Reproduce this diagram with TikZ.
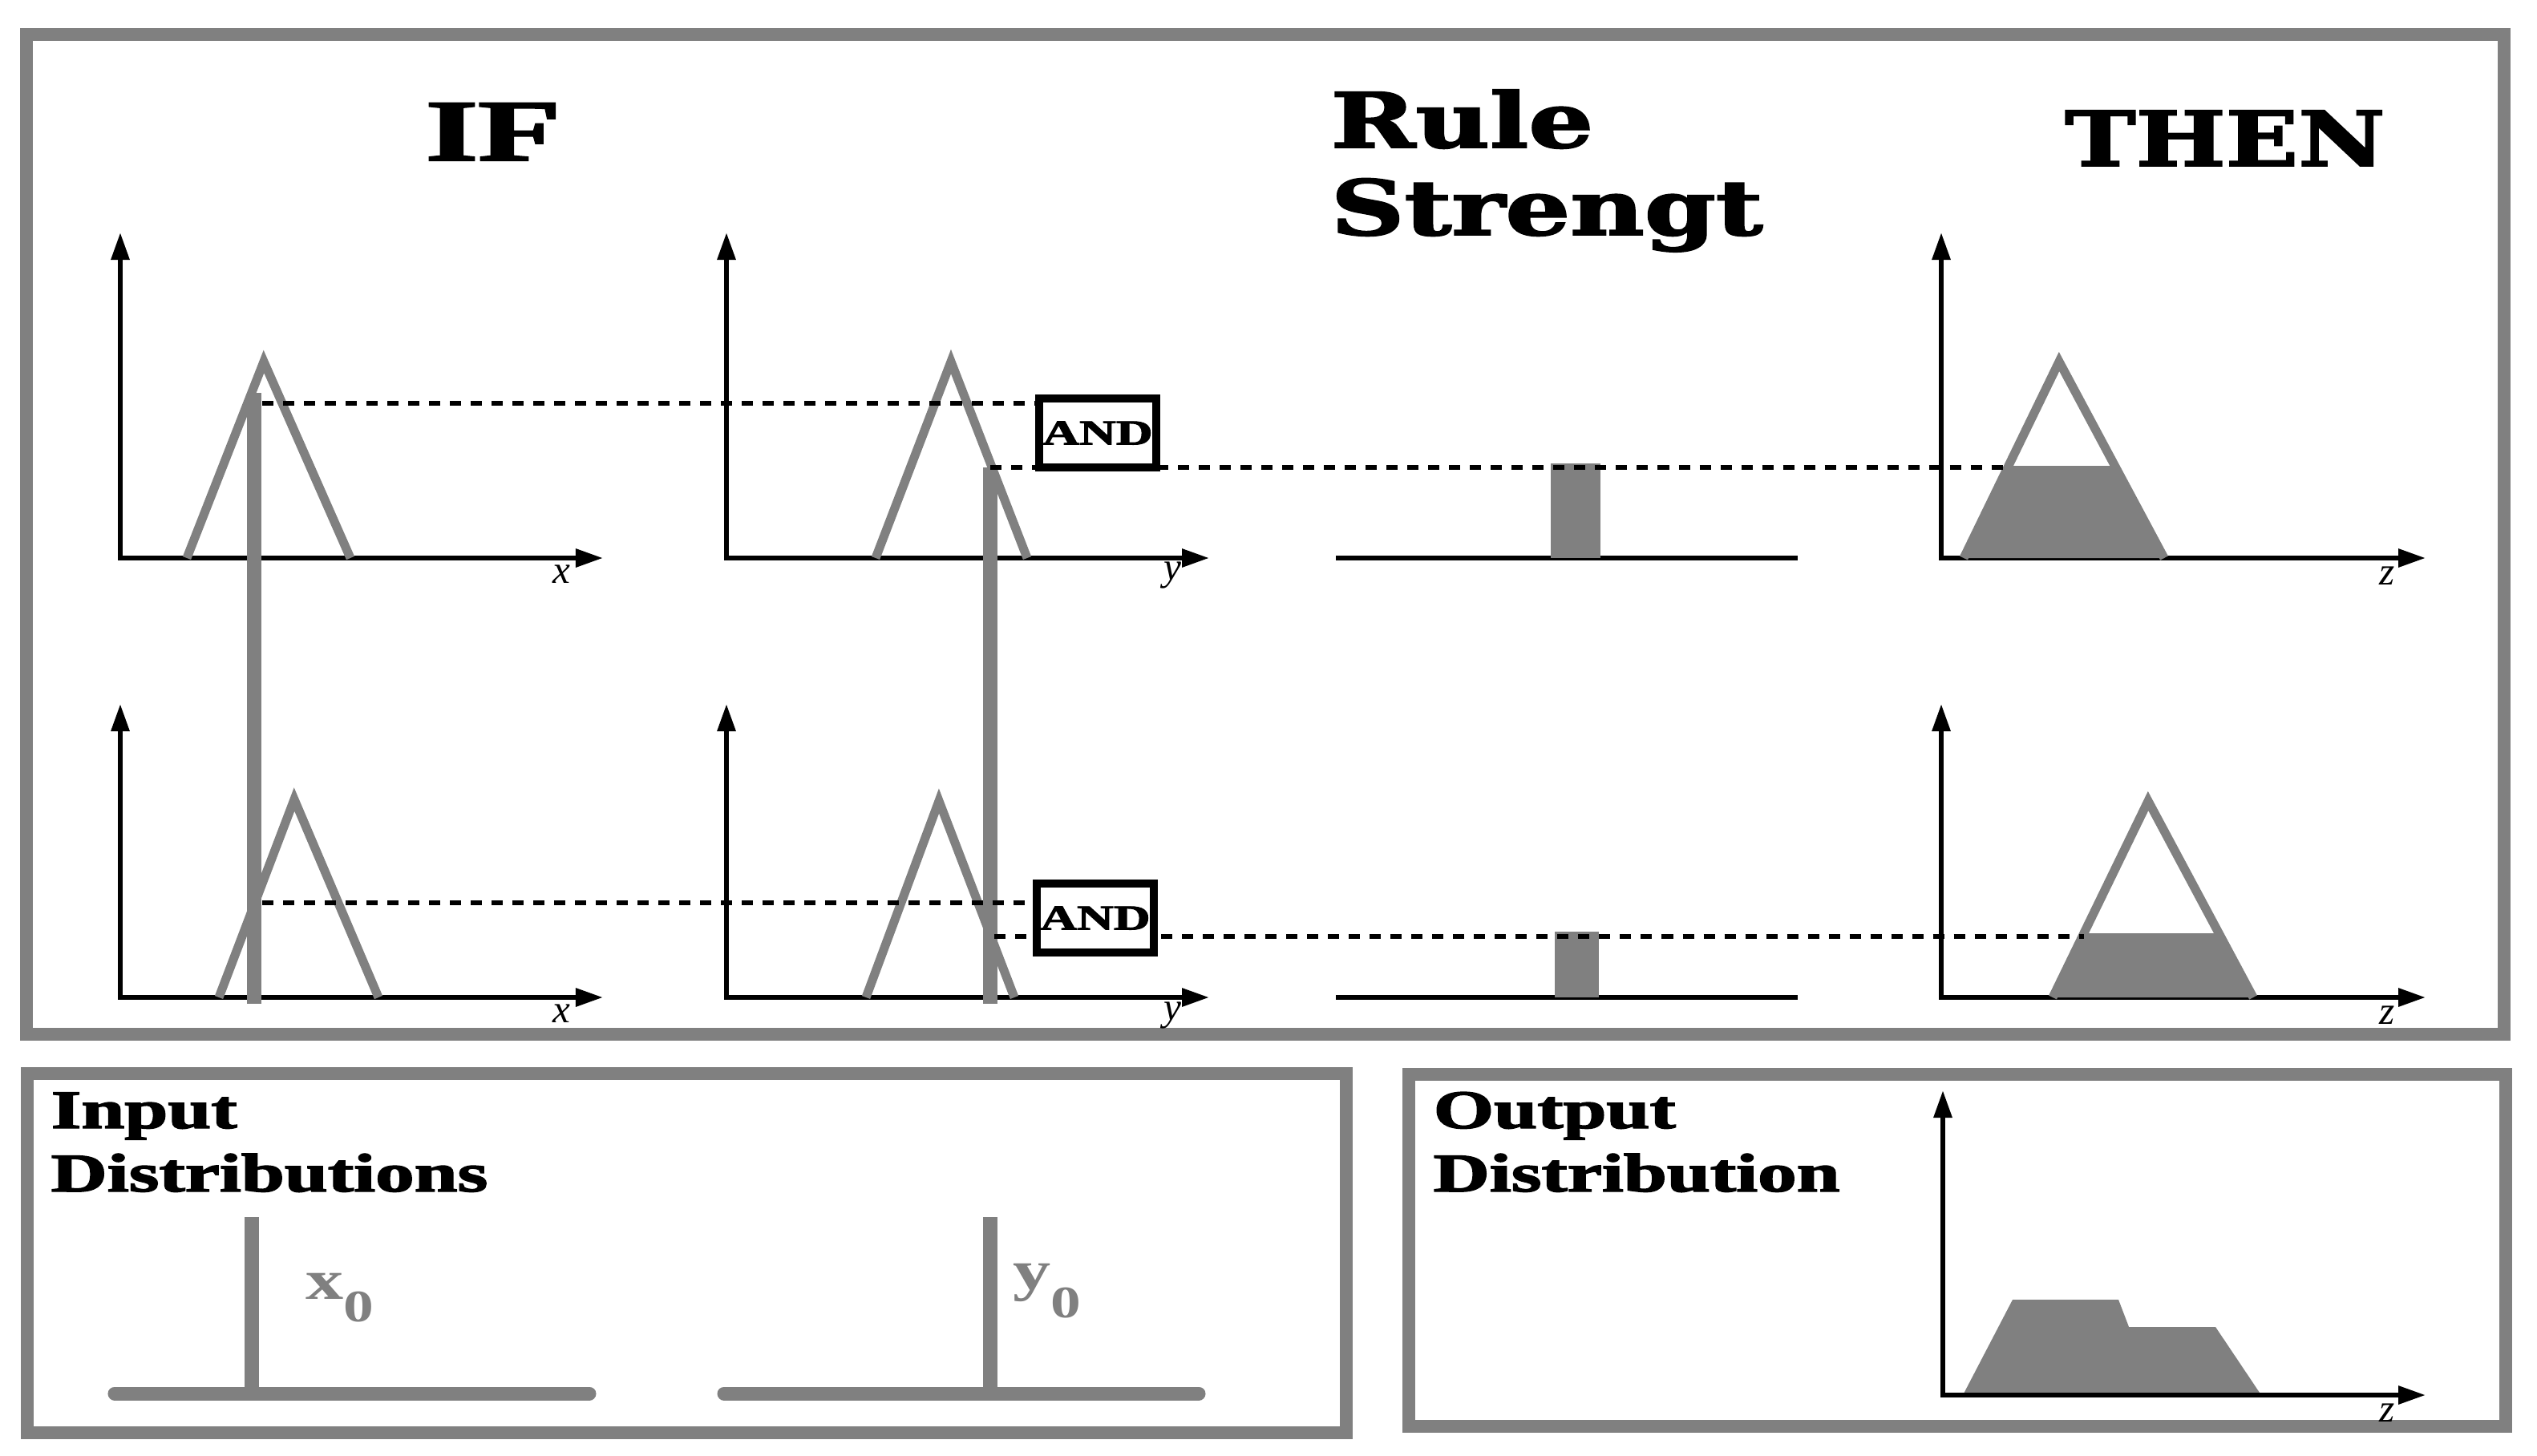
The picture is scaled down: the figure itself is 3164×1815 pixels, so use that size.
\documentclass[tikz,border=0pt]{standalone}
\usepackage{fontspec}
\setmainfont{Liberation Serif}
\newfontfamily\slabfont{DejaVu Serif}[BoldFeatures={FakeBold=2}]
\newfontfamily\heavyfont{Liberation Serif}[BoldFeatures={FakeBold=2}]
\usetikzlibrary{arrows.meta}
\definecolor{fg}{RGB}{128,128,128}
\begin{document}
\begin{tikzpicture}[x=0.01cm,y=-0.01cm,
  frame/.style={draw=fg, line width=0.16cm},
  axis/.style={draw=black, line width=0.06cm, line join=miter,
    {Triangle[length=0.34cm,width=0.22cm]}-{Triangle[length=0.34cm,width=0.22cm]}},
  rsline/.style={draw=black, line width=0.06cm},
  mf/.style={draw=fg, line width=0.11cm, line join=miter},
  cut/.style={fill=fg},
  dashline/.style={draw=black, line width=0.06cm, dash pattern=on 0.14cm off 0.12cm},
  pulse/.style={draw=fg, line width=0.18cm},
  inpulse/.style={draw=fg, line width=0.17cm, line cap=round},
  andbox/.style={draw=black, line width=0.1cm, fill=white, minimum width=1.46cm,
    minimum height=0.86cm, inner sep=0pt},
  andtext/.style={font=\fontsize{12.5}{12.5}\selectfont\heavyfont\bfseries},
  axlabel/.style={font=\fontsize{14}{14}\selectfont\itshape, inner sep=0pt},
  title/.style={inner sep=0pt, anchor=base},
  slabtitle/.style={inner sep=0pt, anchor=base west, font=\fontsize{27}{27}\selectfont\slabfont\bfseries},
  boxtitle/.style={inner sep=0pt, anchor=base west, font=\fontsize{19.3}{19.3}\selectfont\heavyfont\bfseries},
  sublabel/.style={inner sep=0pt, anchor=base west, text=fg, font=\fontsize{20}{20}\selectfont\bfseries},
]
\useasboundingbox (0,0) rectangle (3164,1815);
\fill[white] (0,0) rectangle (3164,1815);

% frames
\draw[frame] (33,43) rectangle (3123,1290);
\draw[frame] (34,1339) rectangle (1679,1787);
\draw[frame] (1757,1340) rectangle (3125,1779);

% titles
\node[title] (if) at (615,200) {\fontsize{31}{31}\selectfont\heavyfont\bfseries\scalebox{1.55}[1]{IF}};
\node[slabtitle] (rule) at (1659,184) {\scalebox{1.34}[1]{Rule}};
\node[slabtitle] (strengt) at (1659,293) {\scalebox{1.34}[1]{Strengt}};
\node[slabtitle, anchor=base] (then) at (2775,207) {\scalebox{1.25}[1]{THEN}};

% ---------- top row ----------
\draw[axis] (150,290) -- (150,696) -- (752,696);
\draw[axis] (906,290) -- (906,696) -- (1508,696);
\draw[rsline] (1666,696) -- (2242,696);
\draw[axis] (2421,290) -- (2421,696) -- (3025,696);
\node[axlabel] (lx1) at (700,716) {x};
\node[axlabel] (ly1) at (1462,718) {y};
\node[axlabel] (lz1) at (2977,718) {z};

\draw[mf] (233,696) -- (329,451) -- (437,696);
\draw[mf] (1092,696) -- (1186,451) -- (1281,696);
\fill[cut] (2449,696) -- (2505,581) -- (2637,581) -- (2699,696) -- cycle;
\draw[mf] (2449,696) -- (2568,451) -- (2699,696);
\fill[cut] (1934,578) rectangle (1996,696);

% ---------- bottom row ----------
\draw[axis] (150,878) -- (150,1244) -- (752,1244);
\draw[axis] (906,878) -- (906,1244) -- (1508,1244);
\draw[rsline] (1666,1244) -- (2242,1244);
\draw[axis] (2421,878) -- (2421,1244) -- (3025,1244);
\node[axlabel] (lx2) at (700,1264) {x};
\node[axlabel] (ly2) at (1462,1266) {y};
\node[axlabel] (lz2) at (2977,1266) {z};

\draw[mf] (273,1244) -- (367,997) -- (472,1244);
\draw[mf] (1080,1244) -- (1171,999) -- (1265,1244);
\fill[cut] (2560,1244) -- (2599,1164) -- (2767,1164) -- (2810,1244) -- cycle;
\draw[mf] (2560,1244) -- (2679,999) -- (2810,1244);
\fill[cut] (1939,1162) rectangle (1994,1244);

% input cuts
\coordinate (x0top) at (317,490);
\coordinate (x0bot) at (317,1252);
\coordinate (y0top) at (1235,583);
\coordinate (y0bot) at (1235,1252);
\draw[pulse] (x0top) -- (x0bot);
\draw[pulse] (y0top) -- (y0bot);

% dashed connectors
\coordinate (a1) at (327,503);
\coordinate (t1) at (2505,583);
\coordinate (a2) at (327,1126);
\coordinate (b2) at (1240,1168);
\coordinate (t2) at (2599,1168);
\node[andbox] (and1) at (1369,540) {};
\node[andbox] (and2) at (1366,1145) {};
\draw[dashline] (a1) -- (a1 -| and1.west);
\draw[dashline] (y0top) -- (t1);
\draw[dashline] (a2) -- (a2 -| and2.west);
\draw[dashline] (b2) -- (t2);
\node[andbox, andtext] at (and1) {\scalebox{1.44}[1]{AND}};
\node[andbox, andtext] at (and2) {\scalebox{1.44}[1]{AND}};

% ---------- input distributions ----------
\node[boxtitle] (in1) at (63,1407) {\scalebox{1.43}[1]{Input}};
\node[boxtitle] (in2) at (63,1486) {\scalebox{1.43}[1]{Distributions}};
\coordinate (ix1) at (143,1738);
\coordinate (ix2) at (735,1738);
\coordinate (iy1) at (903,1738);
\coordinate (iy2) at (1495,1738);
\draw[inpulse] (ix1) -- (ix2);
\draw[inpulse] (iy1) -- (iy2);
\draw[pulse] (314,1518) -- (314,1738);
\draw[pulse] (1235,1518) -- (1235,1738);
\node[sublabel] (xo) at (381,1620) {\scalebox{1.34}[1]{x\raisebox{-0.4em}{\fontsize{16}{16}\selectfont 0}}};
\node[sublabel] (yo) at (1263,1608) {\scalebox{1.34}[1]{y\raisebox{-0.5em}{\fontsize{16}{16}\selectfont 0}}};

% ---------- output distribution ----------
\node[boxtitle] (out1) at (1787,1407) {\scalebox{1.43}[1]{Output}};
\node[boxtitle] (out2) at (1787,1486) {\scalebox{1.43}[1]{Distribution}};
\fill[cut] (2448,1740) -- (2510,1621) -- (2642,1621) -- (2655,1655) -- (2763,1655) -- (2820,1740) -- cycle;
\draw[axis] (2423,1360) -- (2423,1740) -- (3025,1740);
\node[axlabel] (lz3) at (2977,1762) {z};
\end{tikzpicture}
\end{document}
